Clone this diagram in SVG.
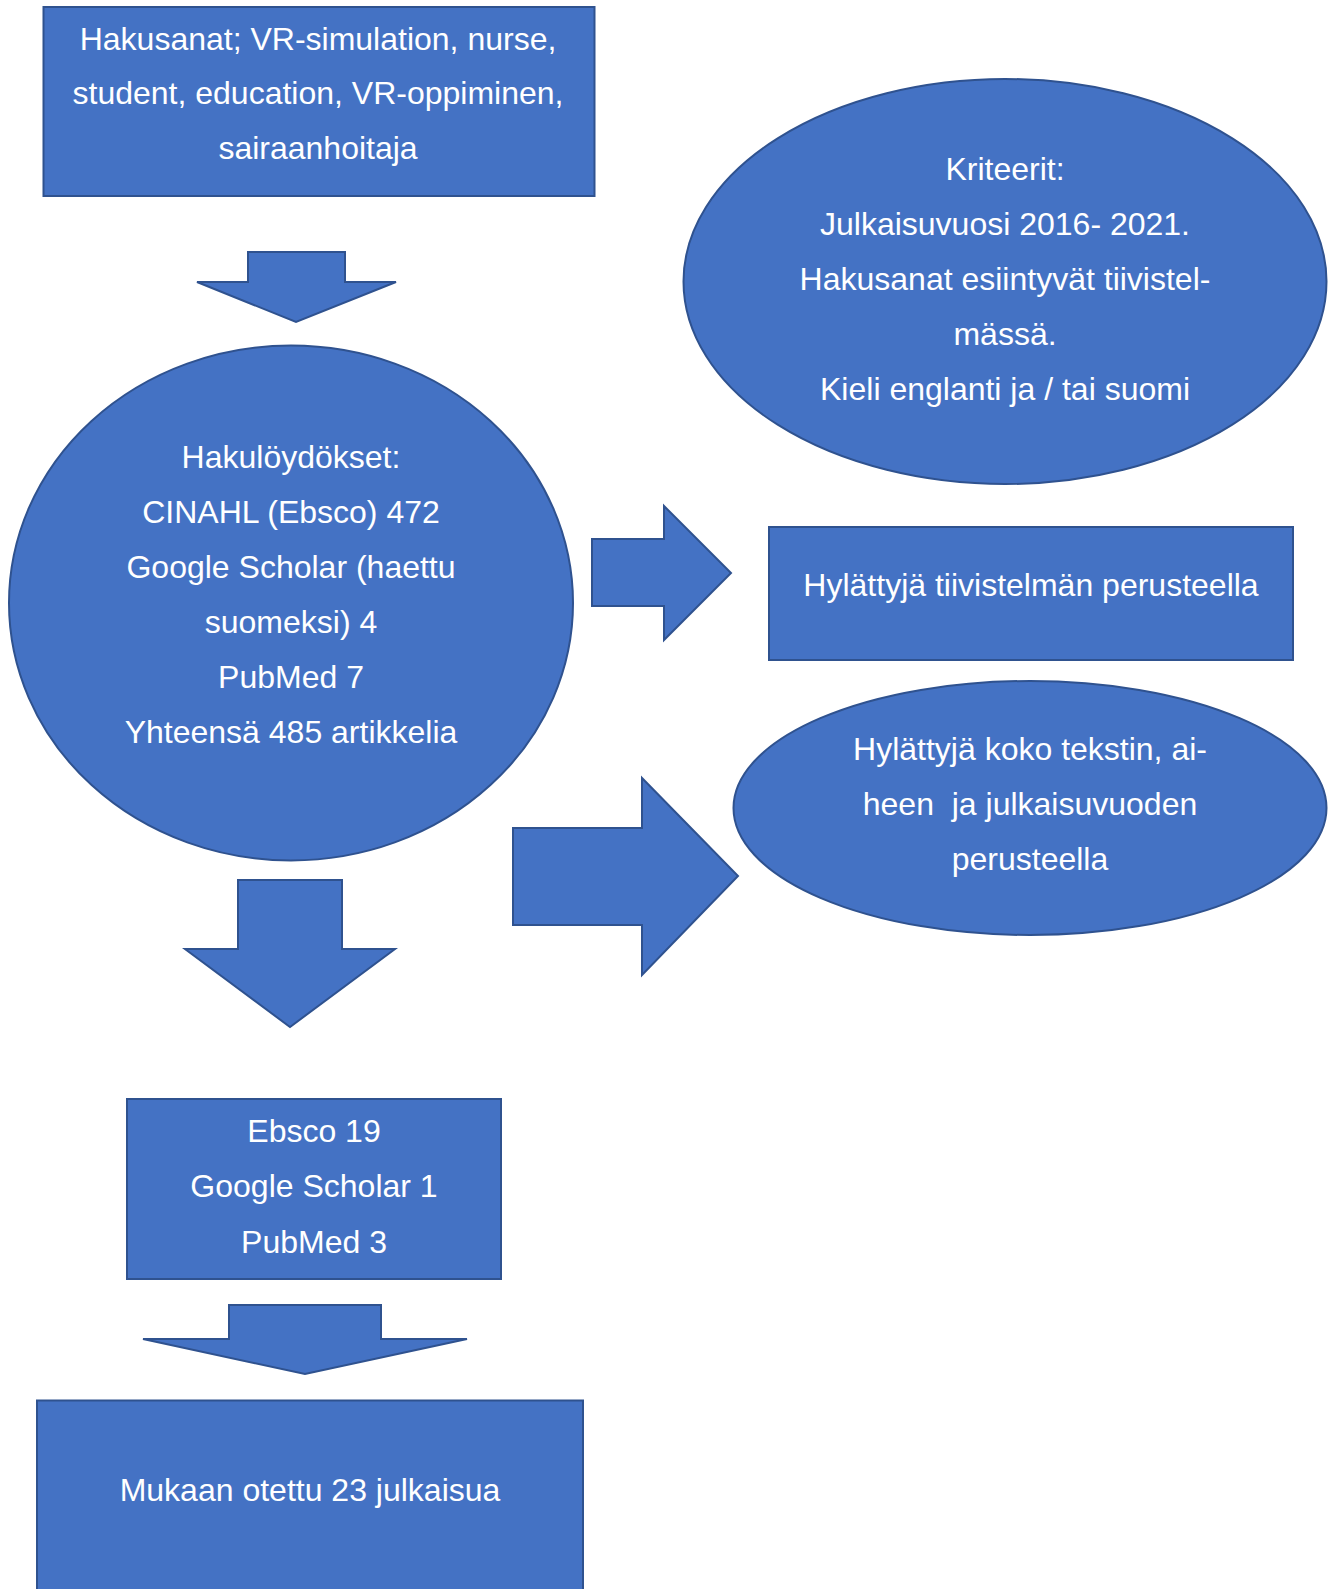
<svg xmlns="http://www.w3.org/2000/svg" width="1338" height="1589" viewBox="0 0 1338 1589">
<style>
.s{fill:#4472C4;stroke:#2F528F;stroke-width:2}
.t{fill:#FFFFFF;font-family:"Liberation Sans",Arial,sans-serif;font-size:32px;text-anchor:middle}
.pre{white-space:pre}
</style>
<rect width="1338" height="1589" fill="#FFFFFF"/>
<g id="connectors">
<polygon class="s" points="248,252 345,252 345,282 396,282 296,322 197,282 248,282"/>
<polygon class="s" points="592,539 664,539 664,506 731,573 664,640 664,606 592,606"/>
<polygon class="s" points="513,828 642,828 642,778 738,876 642,975 642,925 513,925"/>
<polygon class="s" points="238,880 342,880 342,949 395,949 290,1027 185,949 238,949"/>
<polygon class="s" points="229,1305 381,1305 381,1339 467,1339 305,1374 143,1339 229,1339"/>
</g>
<g id="hakusanat">
<rect class="s" x="43.5" y="7" width="551" height="189"/>
<text class="t" x="318" y="49.5">Hakusanat; VR-simulation, nurse,</text>
<text class="t" x="318" y="104">student, education, VR-oppiminen,</text>
<text class="t" x="318" y="158.5">sairaanhoitaja</text>
</g>
<g id="kriteerit">
<ellipse class="s" cx="1005" cy="281.5" rx="321.5" ry="202.5"/>
<text class="t" x="1005" y="180">Kriteerit:</text>
<text class="t" x="1005" y="235">Julkaisuvuosi 2016- 2021.</text>
<text class="t" x="1005" y="290">Hakusanat esiintyvät tiivistel-</text>
<text class="t" x="1005" y="345">mässä.</text>
<text class="t" x="1005" y="400">Kieli englanti ja / tai suomi</text>
</g>
<g id="hakuloydokset">
<ellipse class="s" cx="291" cy="603" rx="282" ry="257.5"/>
<text class="t" x="291" y="468">Hakulöydökset:</text>
<text class="t" x="291" y="523">CINAHL (Ebsco) 472</text>
<text class="t" x="291" y="578">Google Scholar (haettu</text>
<text class="t" x="291" y="633">suomeksi) 4</text>
<text class="t" x="291" y="688">PubMed 7</text>
<text class="t" x="291" y="743">Yhteensä 485 artikkelia</text>
</g>
<g id="hylatty-tiivistelma">
<rect class="s" x="769" y="527" width="524" height="133"/>
<text class="t" x="1031" y="596">Hylättyjä tiivistelmän perusteella</text>
</g>
<g id="hylatty-koko">
<ellipse class="s" cx="1030" cy="808" rx="296.5" ry="127"/>
<text class="t" x="1030" y="759.5">Hylättyjä koko tekstin, ai-</text>
<text class="t pre" x="1030" y="814.5" xml:space="preserve">heen  ja julkaisuvuoden</text>
<text class="t" x="1030" y="869.5">perusteella</text>
</g>
<g id="ebsco">
<rect class="s" x="127" y="1099" width="374" height="180"/>
<text class="t" x="314" y="1141.5">Ebsco 19</text>
<text class="t" x="314" y="1196.5">Google Scholar 1</text>
<text class="t" x="314" y="1252.5">PubMed 3</text>
</g>
<g id="mukaan">
<rect class="s" x="37" y="1400.5" width="546" height="200"/>
<text class="t" x="310" y="1500.5">Mukaan otettu 23 julkaisua</text>
</g>
</svg>
